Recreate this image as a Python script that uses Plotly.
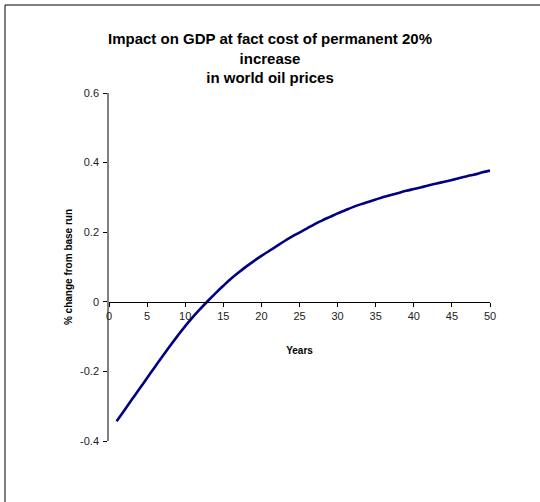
import plotly.graph_objects as go

# Simulated response of GDP at factor cost to a permanent 20% oil-price rise
years = list(range(1, 51))
gdp_change = [
    -0.343, -0.312, -0.281, -0.250, -0.219, -0.188, -0.157, -0.127, -0.098, -0.070,
    -0.044, -0.020, 0.003, 0.025, 0.046, 0.066, 0.084, 0.101, 0.117, 0.132,
    0.146, 0.160, 0.174, 0.187, 0.199, 0.211, 0.223, 0.234, 0.244, 0.254,
    0.263, 0.272, 0.280, 0.287, 0.294, 0.301, 0.307, 0.313, 0.319, 0.324,
    0.329, 0.335, 0.340, 0.345, 0.350, 0.356, 0.361, 0.366, 0.372, 0.377,
]

x_ticks = [0, 5, 10, 15, 20, 25, 30, 35, 40, 45, 50]
y_ticks = [-0.4, -0.2, 0, 0.2, 0.4, 0.6]
y_tick_text = ["-0.4", "-0.2", "0", "0.2", "0.4", "0.6"]

W, H = 540, 502
L, R, T, B = 109, 50, 93, 61
plot_w, plot_h = W - L - R, H - T - B

def px_to_paper_x(px):
    return (px - L) / plot_w

def px_to_paper_y(py):
    return (H - B - py) / plot_h

font_family = "Liberation Sans, Arial, sans-serif"

fig = go.Figure()
fig.add_trace(go.Scatter(
    x=years, y=gdp_change, mode="lines",
    line=dict(color="#000080", width=2.6, shape="spline", smoothing=1.0),
    hoverinfo="x+y", showlegend=False,
))

fig.update_layout(
    width=W, height=H,
    margin=dict(l=L, r=R, t=T, b=B, autoexpand=False),
    paper_bgcolor="white", plot_bgcolor="white",
    font=dict(family=font_family, color="#222222", size=11),
    title=dict(
        text="<b>Impact on GDP at fact cost of permanent 20%<br>increase<br>in world oil prices</b>",
        x=0.5, xref="container", xanchor="center",
        y=1 - 44 / H, yref="container", yanchor="top",
        font=dict(family=font_family, size=15, color="#000000"),
    ),
    xaxis=dict(
        range=[0, 50], tickvals=x_ticks, ticks="outside", ticklen=4,
        tickcolor="#000000", showline=True, linecolor="#000000", linewidth=1,
        showgrid=False, zeroline=False, anchor="free", position=0.4,
        tickfont=dict(size=11, color="#222222"),
        title=dict(text="<b>Years</b>", font=dict(size=10, color="#000000"), standoff=25),
        automargin=False,
    ),
    yaxis=dict(
        range=[-0.4, 0.6], tickvals=y_ticks, ticktext=y_tick_text,
        ticks="outside", ticklen=4, tickcolor="#000000",
        showline=True, linecolor="#808080", linewidth=1.5,
        showgrid=False, zeroline=False,
        tickfont=dict(size=11, color="#222222"),
        ticklabelstandoff=2,
        title=dict(text="<b>% change from base run</b>", font=dict(size=10, color="#000000"), standoff=6),
        automargin=False,
    ),
    shapes=[dict(
        type="rect", xref="paper", yref="paper",
        x0=px_to_paper_x(5), x1=px_to_paper_x(W + 10),
        y0=px_to_paper_y(H + 10), y1=px_to_paper_y(5),
        line=dict(color="#000000", width=1), fillcolor="rgba(0,0,0,0)",
        layer="above",
    )],
)

fig.write_html("out.html")
